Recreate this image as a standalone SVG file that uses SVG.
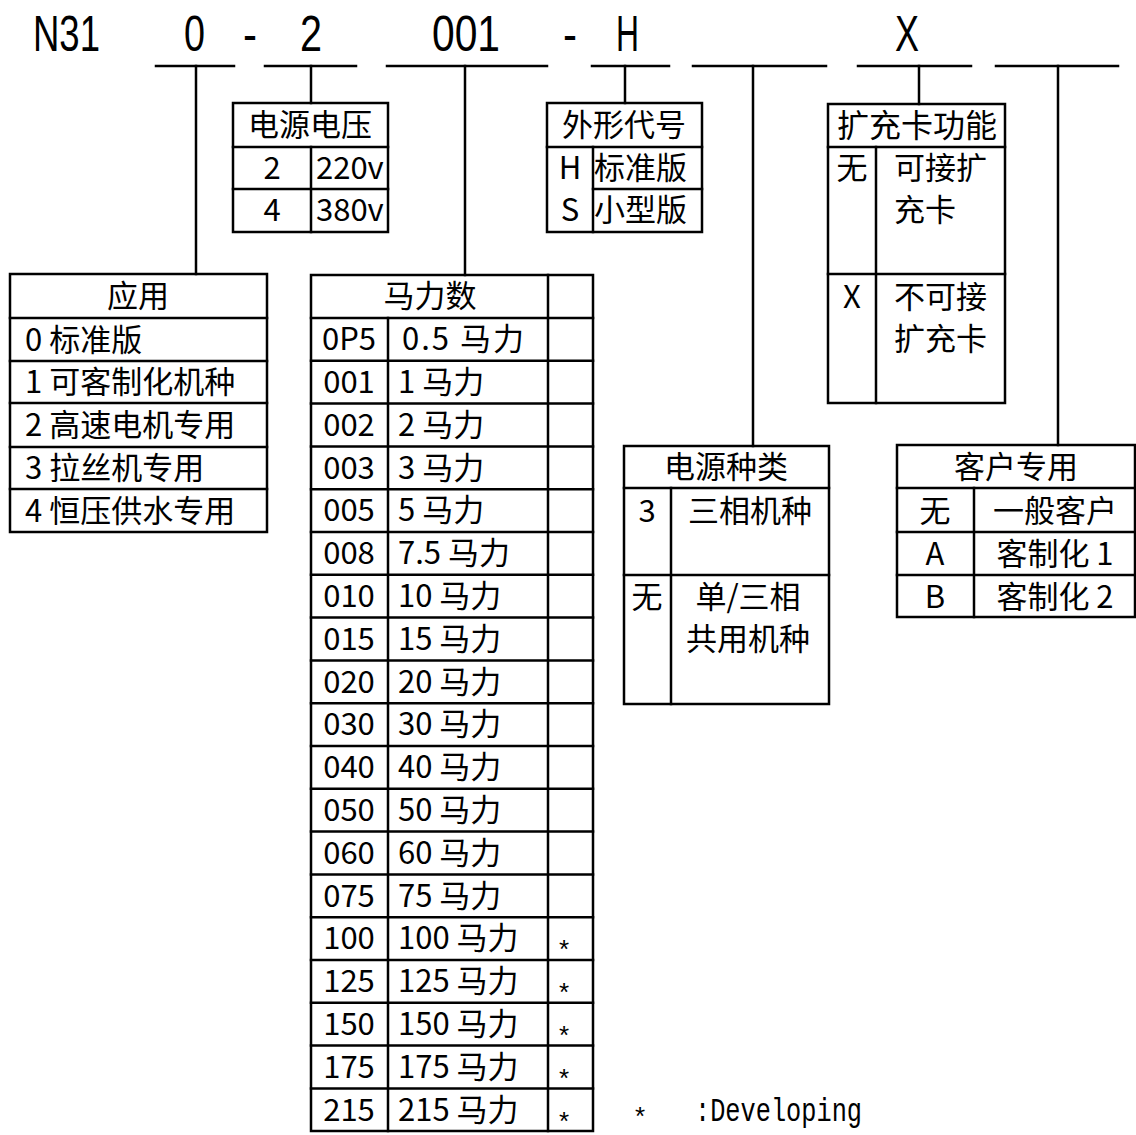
<svg xmlns="http://www.w3.org/2000/svg" width="1136" height="1135" viewBox="0 0 1136 1135">
<style>
.ln{stroke:#000;stroke-width:2.5;fill:none;stroke-linecap:square}
.t{font-family:"Noto Sans CJK SC","Liberation Sans",sans-serif;font-size:31px;fill:#000}
.c{text-anchor:middle}
.hd{font-family:"Liberation Sans",Arial,sans-serif;font-size:50px;fill:#000}
.ast{font-family:"Liberation Sans",Arial,sans-serif;font-size:26px;fill:#000;text-anchor:middle}
.mono{font-family:"Liberation Mono",monospace;font-size:33px;fill:#000}
</style>
<rect width="1136" height="1135" fill="#fff"/>

<g id="code">
<text class="hd" x="33" y="51" textLength="67" lengthAdjust="spacingAndGlyphs">N31</text>
<text class="hd" x="184" y="51" textLength="21" lengthAdjust="spacingAndGlyphs">0</text>
<text class="hd" x="243" y="51" textLength="14" lengthAdjust="spacingAndGlyphs">-</text>
<text class="hd" x="300" y="51" textLength="22" lengthAdjust="spacingAndGlyphs">2</text>
<text class="hd" x="432" y="51" textLength="68" lengthAdjust="spacingAndGlyphs">001</text>
<text class="hd" x="563" y="51" textLength="14" lengthAdjust="spacingAndGlyphs">-</text>
<text class="hd" x="616" y="51" textLength="23" lengthAdjust="spacingAndGlyphs">H</text>
<text class="hd" x="895" y="51" textLength="24" lengthAdjust="spacingAndGlyphs">X</text>
</g>

<g id="connectors" class="ln">
<line x1="156" y1="66" x2="234" y2="66"/>
<line x1="265" y1="66" x2="356" y2="66"/>
<line x1="387" y1="66" x2="547" y2="66"/>
<line x1="592" y1="66" x2="669" y2="66"/>
<line x1="693" y1="66" x2="826" y2="66"/>
<line x1="858" y1="66" x2="971" y2="66"/>
<line x1="996" y1="66" x2="1118" y2="66"/>
<line x1="196" y1="66" x2="196" y2="274"/>
<line x1="311" y1="66" x2="311" y2="103"/>
<line x1="465" y1="66" x2="465" y2="275"/>
<line x1="625" y1="66" x2="625" y2="103"/>
<line x1="753" y1="66" x2="753" y2="446"/>
<line x1="919" y1="66" x2="919" y2="104"/>
<line x1="1058" y1="66" x2="1058" y2="445"/>
</g>

<g id="voltage">
<rect class="ln" x="233" y="103" width="155" height="129"/>
<line class="ln" x1="233" y1="147" x2="388" y2="147"/>
<line class="ln" x1="233" y1="189" x2="388" y2="189"/>
<line class="ln" x1="311" y1="147" x2="311" y2="232"/>
<text class="t c" x="310" y="136">电源电压</text>
<text class="t c" x="272" y="179">2</text>
<text class="t" x="316" y="179">220v</text>
<text class="t c" x="272" y="221">4</text>
<text class="t" x="316" y="221">380v</text>
</g>

<g id="shape">
<rect class="ln" x="547" y="103" width="155" height="129"/>
<line class="ln" x1="547" y1="147" x2="702" y2="147"/>
<line class="ln" x1="593" y1="189" x2="702" y2="189"/>
<line class="ln" x1="593" y1="147" x2="593" y2="232"/>
<text class="t c" x="624" y="136">外形代号</text>
<text class="t c" x="570" y="179">H</text>
<text class="t" x="594" y="179">标准版</text>
<text class="t c" x="570" y="221">S</text>
<text class="t" x="594" y="221">小型版</text>
</g>

<g id="expansion">
<rect class="ln" x="828" y="104" width="177" height="299"/>
<line class="ln" x1="828" y1="147" x2="1005" y2="147"/>
<line class="ln" x1="828" y1="274" x2="1005" y2="274"/>
<line class="ln" x1="876" y1="147" x2="876" y2="403"/>
<text class="t c" x="917" y="137" style="font-size:32px">扩充卡功能</text>
<text class="t c" x="852" y="179">无</text>
<text class="t" x="894" y="179">可接扩</text>
<text class="t" x="894" y="221">充卡</text>
<text class="t c" x="852" y="308">X</text>
<text class="t" x="894" y="308">不可接</text>
<text class="t" x="894" y="350">扩充卡</text>
</g>

<g id="application">
<rect class="ln" x="10" y="274" width="257" height="258"/>
<line class="ln" x1="10" y1="318" x2="267" y2="318"/>
<line class="ln" x1="10" y1="361" x2="267" y2="361"/>
<line class="ln" x1="10" y1="403" x2="267" y2="403"/>
<line class="ln" x1="10" y1="447" x2="267" y2="447"/>
<line class="ln" x1="10" y1="489" x2="267" y2="489"/>
<text class="t c" x="138" y="307">应用</text>
<text class="t" x="25" y="351">0 标准版</text>
<text class="t" x="25" y="393">1 可客制化机种</text>
<text class="t" x="25" y="436">2 高速电机专用</text>
<text class="t" x="25" y="479">3 拉丝机专用</text>
<text class="t" x="25" y="522">4 恒压供水专用</text>
</g>

<g id="horsepower">
<rect class="ln" x="311" y="275" width="282" height="856"/>
<line class="ln" x1="311" y1="318" x2="593" y2="318"/>
<line class="ln" x1="548" y1="275" x2="548" y2="1131"/>
<line class="ln" x1="388" y1="318" x2="388" y2="1131"/>
<g class="ln">
<line x1="311" y1="360.8" x2="593" y2="360.8"/>
<line x1="311" y1="403.6" x2="593" y2="403.6"/>
<line x1="311" y1="446.4" x2="593" y2="446.4"/>
<line x1="311" y1="489.2" x2="593" y2="489.2"/>
<line x1="311" y1="532" x2="593" y2="532"/>
<line x1="311" y1="574.8" x2="593" y2="574.8"/>
<line x1="311" y1="617.6" x2="593" y2="617.6"/>
<line x1="311" y1="660.4" x2="593" y2="660.4"/>
<line x1="311" y1="703.2" x2="593" y2="703.2"/>
<line x1="311" y1="746" x2="593" y2="746"/>
<line x1="311" y1="788.8" x2="593" y2="788.8"/>
<line x1="311" y1="831.6" x2="593" y2="831.6"/>
<line x1="311" y1="874.4" x2="593" y2="874.4"/>
<line x1="311" y1="917.2" x2="593" y2="917.2"/>
<line x1="311" y1="960" x2="593" y2="960"/>
<line x1="311" y1="1002.8" x2="593" y2="1002.8"/>
<line x1="311" y1="1045.6" x2="593" y2="1045.6"/>
<line x1="311" y1="1088.4" x2="593" y2="1088.4"/>
</g>
<text class="t c" x="430" y="307">马力数</text>
<text class="t c" x="349" y="350">0P5</text><text class="t" x="402" y="350" letter-spacing="2">0.5 马力</text>
<text class="t c" x="349" y="393">001</text><text class="t" x="398" y="393">1 马力</text>
<text class="t c" x="349" y="436">002</text><text class="t" x="398" y="436">2 马力</text>
<text class="t c" x="349" y="479">003</text><text class="t" x="398" y="479">3 马力</text>
<text class="t c" x="349" y="521">005</text><text class="t" x="398" y="521">5 马力</text>
<text class="t c" x="349" y="564">008</text><text class="t" x="398" y="564">7.5 马力</text>
<text class="t c" x="349" y="607">010</text><text class="t" x="398" y="607">10 马力</text>
<text class="t c" x="349" y="650">015</text><text class="t" x="398" y="650">15 马力</text>
<text class="t c" x="349" y="693">020</text><text class="t" x="398" y="693">20 马力</text>
<text class="t c" x="349" y="735">030</text><text class="t" x="398" y="735">30 马力</text>
<text class="t c" x="349" y="778">040</text><text class="t" x="398" y="778">40 马力</text>
<text class="t c" x="349" y="821">050</text><text class="t" x="398" y="821">50 马力</text>
<text class="t c" x="349" y="864">060</text><text class="t" x="398" y="864">60 马力</text>
<text class="t c" x="349" y="907">075</text><text class="t" x="398" y="907">75 马力</text>
<text class="t c" x="349" y="949">100</text><text class="t" x="398" y="949">100 马力</text>
<text class="t c" x="349" y="992">125</text><text class="t" x="398" y="992">125 马力</text>
<text class="t c" x="349" y="1035">150</text><text class="t" x="398" y="1035">150 马力</text>
<text class="t c" x="349" y="1078">175</text><text class="t" x="398" y="1078">175 马力</text>
<text class="t c" x="349" y="1121">215</text><text class="t" x="398" y="1121">215 马力</text>
<text class="ast" x="564" y="958">*</text>
<text class="ast" x="564" y="1001">*</text>
<text class="ast" x="564" y="1044">*</text>
<text class="ast" x="564" y="1087">*</text>
<text class="ast" x="564" y="1130">*</text>
</g>

<g id="powertype">
<rect class="ln" x="624" y="446" width="205" height="258"/>
<line class="ln" x1="624" y1="488" x2="829" y2="488"/>
<line class="ln" x1="624" y1="575" x2="829" y2="575"/>
<line class="ln" x1="671" y1="488" x2="671" y2="704"/>
<text class="t c" x="726" y="478">电源种类</text>
<text class="t c" x="647" y="522">3</text>
<text class="t c" x="750" y="522">三相机种</text>
<text class="t c" x="647" y="608">无</text>
<text class="t c" x="748" y="608">单/三相</text>
<text class="t c" x="748" y="650">共用机种</text>
</g>

<g id="customer">
<rect class="ln" x="897" y="445" width="238" height="172"/>
<line class="ln" x1="897" y1="488" x2="1135" y2="488"/>
<line class="ln" x1="897" y1="532" x2="1135" y2="532"/>
<line class="ln" x1="897" y1="575" x2="1135" y2="575"/>
<line class="ln" x1="974" y1="488" x2="974" y2="617"/>
<text class="t c" x="1016" y="478">客户专用</text>
<text class="t c" x="935" y="522">无</text>
<text class="t c" x="1055" y="522">一般客户</text>
<text class="t c" x="935" y="565">A</text>
<text class="t c" x="1055" y="565">客制化 1</text>
<text class="t c" x="935" y="608">B</text>
<text class="t c" x="1055" y="608">客制化 2</text>
</g>

<g id="legend">
<text class="mono" y="1121"><tspan x="635" font-family="Liberation Sans, Arial, sans-serif" font-size="26" dy="4">*</tspan><tspan x="695" dy="-4" textLength="167" lengthAdjust="spacingAndGlyphs">:Developing</tspan></text>
</g>
</svg>
